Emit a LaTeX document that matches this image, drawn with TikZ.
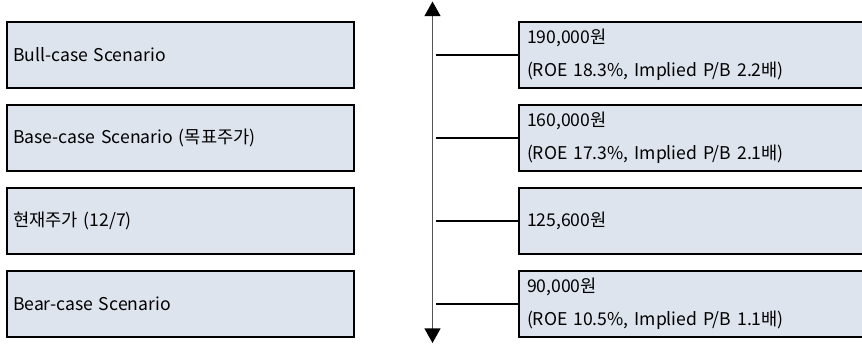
\documentclass[tikz,border=0pt]{standalone}
\usepackage{fontspec}
\setmainfont{Noto Sans CJK KR}
\usetikzlibrary{arrows.meta}
\definecolor{boxfill}{HTML}{DEE4EE}
\definecolor{axisgray}{HTML}{555555}

\begin{document}
\begin{tikzpicture}[x=0.75pt,y=-0.75pt,
        scenbox/.style={draw=black,line width=1.5pt,fill=boxfill,outer sep=0pt,
            inner xsep=4.5pt,minimum height=49.5pt,text width=251.25pt,
            align=left,anchor=west,font=\fontsize{13.2}{24.75}\selectfont},
        pricebox/.style={scenbox,inner xsep=6pt,text width=258.75pt},
        link/.style={draw=black,line width=1.5pt},
        axisarrow/.style={draw=axisgray,line width=1.1pt,
            {Triangle[width=12pt,length=11pt,black]}-{Triangle[width=12pt,length=11pt,black]}}]
\path[use as bounding box,clip] (0,0) rectangle (862,344);

\node[scenbox] (bull) at (7,54.5) {Bull-case Scenario};
\node[scenbox] (base) at (7,137.5) {Base-case Scenario (목표주가)};
\node[scenbox] (now) at (7,220.5) {현재주가 (12/7)};
\node[scenbox] (bear) at (7,304) {Bear-case Scenario};

\node[pricebox] (bullp) at (519,54.5) {190,000원\\(ROE 18.3\%, Implied P/B 2.2배)};
\node[pricebox] (basep) at (519,137.5) {160,000원\\(ROE 17.3\%, Implied P/B 2.1배)};
\node[pricebox] (nowp) at (519,220.5) {125,600원};
\node[pricebox] (bearp) at (519,304) {90,000원\\(ROE 10.5\%, Implied P/B 1.1배)};

% price axis
\coordinate (axtop) at (432.5,1.5);
\coordinate (axbot) at (432.5,343);
\draw[axisarrow] (axtop) -- (axbot);

\draw[link] (bullp.west) -- ([xshift=2.5pt]bullp.west -| axtop);
\draw[link] (basep.west) -- ([xshift=2.5pt]basep.west -| axtop);
\draw[link] (nowp.west) -- ([xshift=2.5pt]nowp.west -| axtop);
\draw[link] (bearp.west) -- ([xshift=2.5pt]bearp.west -| axtop);
\end{tikzpicture}
\end{document}
